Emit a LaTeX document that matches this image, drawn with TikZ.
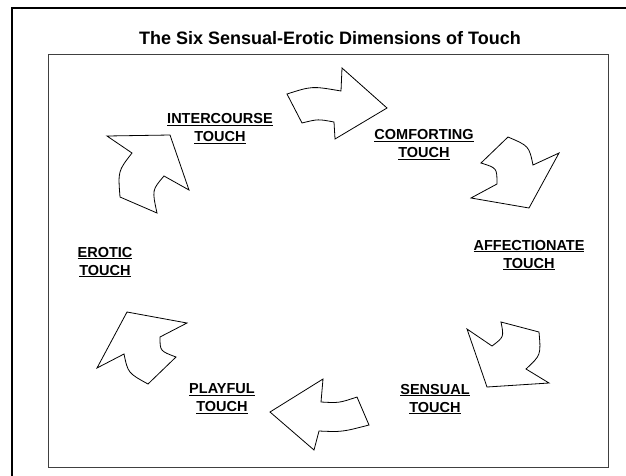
\documentclass[tikz,border=0pt]{standalone}
\usepackage{fontspec}
\setmainfont{Liberation Sans}
\usepackage{tikz}
\tikzset{
	touchlabel/.style={font=\fontsize{14.5}{18}\selectfont\bfseries, align=center, inner sep=0pt},
	blockarrow/.style={draw=black, line width=0.8pt, line join=miter, fill=white}
}

\begin{document}
\begin{tikzpicture}[x=1pt, y=-1pt]
			%%%%% START %%%%%
			\useasboundingbox (0, 0) rectangle (626, 475);
			
			\draw[line width=2.4pt] (11.8, 490) -- (11.8, 8.2) -- (640, 8.2);
			\draw[line width=1pt, color=black!75] (48.5, 54) rectangle (608, 467);
			
			\node[font=\fontsize{18}{22}\selectfont\bfseries, inner sep=0pt] (title) at (330, 38.5) {The Six Sensual-Erotic Dimensions of Touch};
			
			\node[touchlabel] (intercourse) at (220, 129) {\underline{INTERCOURSE}\\\underline{TOUCH}};
			\node[touchlabel] (comforting) at (424, 145) {\underline{COMFORTING}\\\underline{TOUCH}};
			\node[touchlabel] (affectionate) at (529, 255) {\underline{AFFECTIONATE}\\\underline{TOUCH}};
			\node[touchlabel] (sensual) at (435, 399) {\underline{SENSUAL}\\\underline{TOUCH}};
			\node[touchlabel] (playful) at (222, 399) {\underline{PLAYFUL}\\\underline{TOUCH}};
			\node[touchlabel] (erotic) at (105, 262) {\underline{EROTIC}\\\underline{TOUCH}};
			
			% intercourse -> comforting
			\draw[blockarrow] (287, 94) .. controls (312, 86) .. (341, 91) -- (342, 68) -- (387, 108) -- (335, 139) -- (334, 122) .. controls (318, 119) .. (302, 123) -- cycle;
			% comforting -> affectionate
			\draw[blockarrow] (508, 137) .. controls (529, 146) .. (533, 165) -- (559, 153) -- (529, 208) -- (471, 198) -- (497, 184) .. controls (497, 168) .. (481, 163) -- cycle;
			% affectionate -> sensual
			\draw[blockarrow] (501, 322) -- (539, 332) .. controls (541, 355) .. (526, 369) -- (549, 383) -- (487, 387) -- (467, 329) -- (492, 346) .. controls (504, 337) .. cycle;
			% sensual -> playful
			\draw[blockarrow] (270, 412) -- (323, 379) -- (321, 402) .. controls (339, 403) .. (357, 397) -- (369, 425) .. controls (342, 432) .. (319, 431) -- (314, 450) -- cycle;
			% playful -> erotic
			\draw[blockarrow] (127, 312) -- (187, 323) -- (160, 337) .. controls (160, 351) .. (176, 357) -- (148, 384) .. controls (128, 373) .. (124, 354) -- (97, 368) -- cycle;
			% erotic -> intercourse
			\draw[blockarrow] (107, 136) -- (170, 135) -- (189, 190) -- (164, 176) .. controls (152, 190) .. (157, 213) -- (120, 197) .. controls (118, 171) .. (132, 153) -- cycle;
			
			%%%%% END %%%%%
		\end{tikzpicture}
\end{document}
